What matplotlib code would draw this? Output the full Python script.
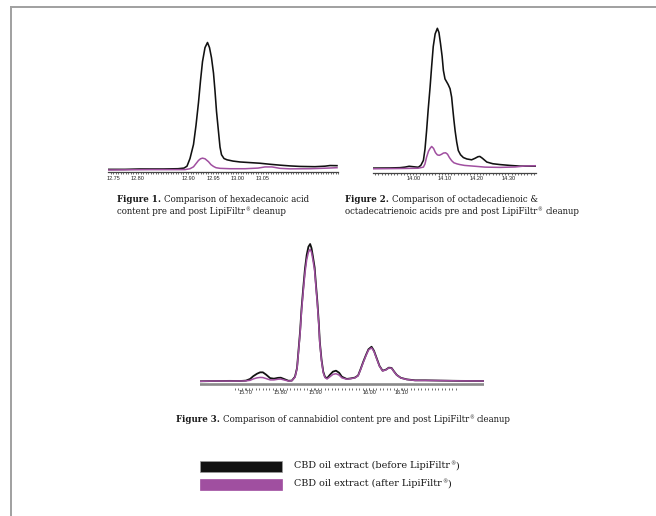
import matplotlib
matplotlib.use('Agg')
import matplotlib.pyplot as plt
import numpy as np
from matplotlib.patches import Rectangle
from matplotlib.lines import Line2D
from matplotlib.ticker import FixedLocator

plt.rcParams['font.family'] = 'Liberation Sans'

# ---- Figure 1: hexadecanoic acid ----
p1_time = [12.740, 12.774, 12.804, 12.850, 12.880, 12.892, 12.898, 12.904, 12.911, 12.916,
           12.921, 12.925, 12.929, 12.934, 12.939, 12.943, 12.947, 12.951, 12.954, 12.957,
           12.961, 12.964, 12.967, 12.972, 12.978, 12.990, 13.004, 13.024, 13.044, 13.064,
           13.084, 13.104, 13.124, 13.154, 13.174, 13.184, 13.198]
p1_before = [0.5, 0.5, 0.8, 0.8, 1.0, 1.5, 3.0, 9, 20, 35,
             53, 70, 85, 96, 100, 96, 88, 76, 62, 46,
             30, 18, 12, 9, 8, 7, 6.3, 5.8, 5.3, 4.5,
             3.8, 3.2, 2.8, 2.6, 3.0, 3.5, 3.4]
p1_time_after = [12.740, 12.824, 12.894, 12.904, 12.911, 12.916, 12.921, 12.925, 12.929, 12.934,
                 12.941, 12.946, 12.951, 12.956, 12.964, 12.984, 13.014, 13.040, 13.054, 13.068,
                 13.084, 13.104, 13.144, 13.174, 13.198]
p1_after = [0.0, 0.3, 0.3, 1.0, 2.5, 5.0, 7.5, 8.8, 9.3, 8.8,
            6.5, 4.2, 2.8, 1.8, 1.3, 1.0, 1.0, 1.5, 2.4, 2.4,
            1.3, 0.9, 1.0, 1.4, 1.8]
p1_ticks = [12.75, 12.80, 12.90, 12.95, 13.00, 13.05]
p1_labels = ['12.75', '12.80', '12.90', '12.95', '13.00', '13.05']

# ---- Figure 2: octadecadienoic & octadecatrienoic acids ----
p2_time = [13.874, 13.927, 13.958, 13.974, 13.987, 13.999, 14.016, 14.024, 14.032, 14.037,
           14.042, 14.047, 14.053, 14.058, 14.063, 14.069, 14.076, 14.081, 14.086, 14.091,
           14.095, 14.100, 14.105, 14.110, 14.116, 14.121, 14.124, 14.128, 14.132, 14.137,
           14.142, 14.149, 14.158, 14.169, 14.184, 14.195, 14.204, 14.210, 14.218, 14.232,
           14.251, 14.274, 14.305, 14.337, 14.387]
p2_before = [0.5, 0.6, 0.8, 1.2, 1.8, 1.5, 1.1, 2.5, 6, 14,
             27, 42, 58, 73, 87, 96, 100, 97, 89, 80,
             70, 64, 62, 60, 57, 51, 44, 35, 27, 19,
             13, 10, 8, 7, 6.4, 7.5, 8.6, 8.8, 7.5, 4.8,
             3.6, 3.0, 2.4, 1.9, 1.9]
p2_time_after = [13.874, 13.958, 14.015, 14.032, 14.037, 14.042, 14.048, 14.053, 14.058, 14.064,
                 14.070, 14.076, 14.082, 14.089, 14.095, 14.102, 14.108, 14.114, 14.121, 14.128,
                 14.138, 14.147, 14.162, 14.195, 14.226, 14.274, 14.321, 14.352, 14.387]
p2_after = [0.0, 0.2, 0.4, 1.2, 3.5, 8.3, 12.5, 14.5, 15.9, 14.5,
            11.5, 9.9, 9.6, 10.3, 11.2, 11.4, 10.4, 8.0, 5.8, 4.3,
            3.5, 3.0, 2.4, 1.8, 1.2, 1.0, 1.3, 2.0, 2.2]
p2_ticks = [14.00, 14.10, 14.20, 14.30]
p2_labels = ['14.00', '14.10', '14.20', '14.30']

# ---- Figure 3: cannabidiol ----
p3_time = [15.567, 15.610, 15.654, 15.683, 15.700, 15.712, 15.721, 15.732, 15.741, 15.749,
           15.758, 15.770, 15.781, 15.793, 15.801, 15.810, 15.823, 15.833, 15.842, 15.848,
           15.852, 15.857, 15.861, 15.866, 15.871, 15.876, 15.881, 15.886, 15.890, 15.894,
           15.899, 15.903, 15.907, 15.911, 15.914, 15.919, 15.924, 15.929, 15.935, 15.943,
           15.952, 15.961, 15.970, 15.978, 15.992, 16.004, 16.016, 16.025, 16.032, 16.040,
           16.048, 16.055, 16.064, 16.071, 16.079, 16.087, 16.096, 16.106, 16.114, 16.122,
           16.129, 16.137, 16.149, 16.166, 16.190, 16.219, 16.262, 16.320, 16.390]
p3_before = [0.3, 0.5, 0.6, 0.5, 0.8, 2.0, 4.0, 5.8, 6.8, 6.8,
             5.2, 2.6, 2.2, 2.8, 2.9, 2.0, 0.7, 0.8, 3.6, 10,
             22, 37, 53, 68, 82, 92, 98, 100, 97, 91,
             83, 70, 58, 43, 29, 16, 7.3, 3.5, 2.5, 4.9,
             7.3, 8.0, 6.5, 3.6, 2.0, 2.4, 3.0, 4.5, 9, 14.5,
             19.5, 23.5, 25.4, 22.5, 17, 11.5, 8.0, 8.8, 10.2, 10.0,
             7.5, 4.9, 2.8, 1.7, 1.0, 1.0, 0.8, 0.6, 0.5]
p3_after = [0.3, 0.5, 0.5, 0.5, 0.6, 1.0, 2.0, 2.8, 3.1, 3.0,
            2.3, 1.3, 1.3, 1.8, 1.9, 1.3, 0.5, 0.7, 3.2, 9.5,
            21, 35.5, 51, 65.5, 79, 88.5, 94, 96.2, 94, 88.5,
            80.5, 68, 56, 41.5, 28, 15, 6.5, 3.0, 2.0, 3.5,
            5.3, 5.8, 4.8, 2.8, 1.8, 2.2, 2.8, 4.3, 8.6, 14,
            19, 23, 24.6, 22, 16.5, 11.2, 7.8, 8.6, 10, 9.8,
            7.3, 4.8, 2.7, 1.6, 0.9, 0.9, 0.8, 0.6, 0.5]
p3_ticks = [15.70, 15.80, 15.90, 16.057, 16.152]
p3_labels = ['15.70', '15.80', '15.90', '16.00', '16.10']

legend_labels = [('CBD oil extract (before LipiFiltr', ')'),
                 ('CBD oil extract (after LipiFiltr', ')')]

BLACK = '#111111'
PURPLE = '#a04fa0'
REG = '\u00ae'

W, H = 656, 516
fig = plt.figure(figsize=(W / 100, H / 100), dpi=100)
renderer = fig.canvas.get_renderer()


def px_axes(x0, x1, y0, y1):
    return fig.add_axes([x0 / W, 1 - y1 / H, (x1 - x0) / W, (y1 - y0) / H])


def style_axis(ax, ticks, labels, minor, pad):
    for s in ['top', 'right', 'left']:
        ax.spines[s].set_visible(False)
    ax.spines['bottom'].set_color('#444444')
    ax.spines['bottom'].set_linewidth(0.9)
    ax.set_yticks([])
    ax.xaxis.set_major_locator(FixedLocator(ticks))
    ax.set_xticklabels(labels)
    ax.xaxis.set_minor_locator(FixedLocator(minor))
    ax.tick_params(axis='x', which='both', direction='out', length=1.4, width=0.6,
                   color='#555555', pad=pad, labelsize=4.0, labelcolor='#222222')
    ax.patch.set_alpha(0)


def draw_runs(x, y, runs, size):
    # runs: (text, weight, superscript?, space after?)
    for txt, weight, sup, space in runs:
        fs = size * 0.55 if sup else size
        yy = y - size * 0.42 if sup else y
        t = fig.text(x / W, 1 - yy / H, txt, fontsize=fs, fontweight=weight,
                     family='DejaVu Serif', color='#1a1a1a', va='baseline')
        x = t.get_window_extent(renderer).x1 + (0.3 if not sup else 0)
        if space:
            x += size * 0.44


def caption(x, y, parts, size):
    runs = []
    for txt, weight in parts:
        pieces = txt.split(REG)
        for k, p in enumerate(pieces):
            if p.strip():
                runs.append([p.strip(), weight, False, p.endswith(' ')])
            if k < len(pieces) - 1:
                runs.append([REG, weight, True, pieces[k + 1].startswith(' ')])
        runs[-1][3] = True
    draw_runs(x, y, runs, size)


# panel 1
ax1 = px_axes(108, 338, 35, 172.5)
ax1.plot(p1_time, p1_before, color=BLACK, lw=1.15)
ax1.plot(p1_time_after, p1_after, color=PURPLE, lw=1.1)
ax1.set_xlim(12.74, 13.20)
ax1.set_ylim(-(2.5 / 1.275), (170 - 35) / 1.275)
style_axis(ax1, p1_ticks, p1_labels, np.arange(12.745, 13.20, 0.005), 0.8)

# panel 2
ax2 = px_axes(373.3, 536, 20, 172.8)
ax2.plot(p2_time, p2_before, color=BLACK, lw=1.15)
ax2.plot(p2_time_after, p2_after, color=PURPLE, lw=1.1)
ax2.set_xlim(13.874, 14.387)
ax2.set_ylim(-(4.0 / 1.405), (168.8 - 20) / 1.405)
style_axis(ax2, p2_ticks, p2_labels, np.arange(13.88, 14.385, 0.01), 0.8)

# panel 3
ax3 = px_axes(200, 484, 235, 388)
ax3.plot(p3_time, p3_before, color=BLACK, lw=1.3)
ax3.plot(p3_time, p3_after, color=PURPLE, lw=1.1)
ax3.set_xlim(15.5667, 16.39)
ax3.set_ylim(-(6.3 / 1.377), (381.7 - 235) / 1.377)
ax3.axhline(-(2.4 / 1.377), color='#8a8a8a', lw=1.9, zorder=0)
style_axis(ax3, p3_ticks, p3_labels, np.arange(15.668, 16.315, 0.01), 0.3)
ax3.spines['bottom'].set_visible(False)

# captions
CAP = 6.2
caption(117, 202.5, [('Figure 1. ', 'bold'), ('Comparison of hexadecanoic acid', 'normal')], CAP)
caption(117, 214.2, [('content pre and post LipiFiltr' + REG + ' cleanup', 'normal')], CAP)
caption(345, 202.5, [('Figure 2. ', 'bold'),
                     ('Comparison of octadecadienoic &', 'normal')], CAP)
caption(345, 214.2, [('octadecatrienoic acids pre and post LipiFiltr' + REG + ' cleanup',
                      'normal')], CAP)
caption(176, 421.5, [('Figure 3. ', 'bold'),
                     ('Comparison of cannabidiol content pre and post LipiFiltr' + REG
                      + ' cleanup', 'normal')], CAP)

# legend swatches
for i, (col, lab) in enumerate(zip([BLACK, PURPLE], legend_labels)):
    y0 = [460.5, 478.5][i]
    fig.patches.append(Rectangle((199.5 / W, 1 - (y0 + 11) / H), 82 / W, 11 / H,
                                 transform=fig.transFigure, facecolor=col,
                                 edgecolor='#9a9a9a' if i == 0 else col, lw=0.5))
    caption(294, y0 + 7.8, [(lab[0] + REG + lab[1], 'normal')], 6.9)

# page frame
fig.add_artist(Line2D([11 / W, 1], [1 - 7 / H, 1 - 7 / H], transform=fig.transFigure,
                      color='#a0a0a0', lw=1.4))
fig.add_artist(Line2D([11 / W, 11 / W], [1 - 7 / H, 0], transform=fig.transFigure,
                      color='#a0a0a0', lw=1.4))

fig.savefig('out.png', dpi=100, facecolor='white')
